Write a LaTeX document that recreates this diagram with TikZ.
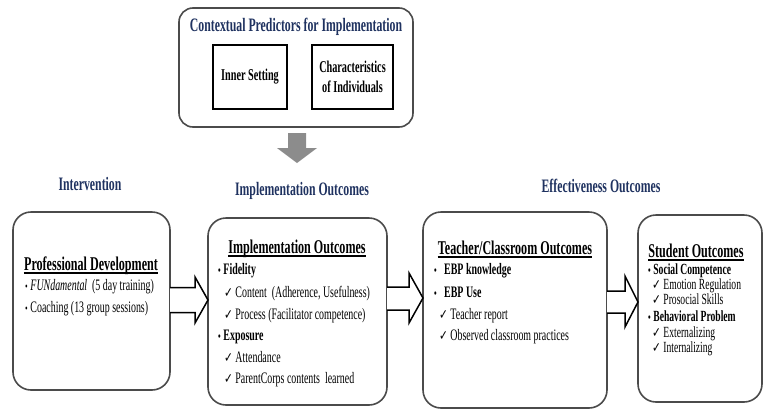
\documentclass[tikz,border=0pt]{standalone}
\usepackage{fontspec}
\setmainfont{Liberation Serif}[FakeStretch=0.62]
\newfontfamily\symfont{DejaVu Sans}[FakeStretch=0.75]
\definecolor{navy}{RGB}{31,50,96}
\definecolor{boxline}{RGB}{75,75,75}
\definecolor{arrowgray}{RGB}{140,140,140}
\newcommand{\ck}{{\symfont\fontsize{14pt}{14pt}\selectfont ✓}}
\newcommand{\sbul}{{\fontsize{12pt}{12pt}\selectfont •}}
\tikzset{
  outerbox/.style={draw=boxline, line width=1.6pt, rounded corners=18pt, fill=white},
  innerbox/.style={draw=black, line width=1.3pt, fill=white},
  blockarrow/.style={draw=black, line width=1.5pt, fill=white, line join=miter},
  colhead/.style={font=\fontsize{19pt}{21pt}\selectfont\bfseries, text=navy, inner sep=0pt, anchor=base},
  boxhead/.style={font=\fontsize{19.5pt}{21pt}\selectfont\bfseries, inner sep=0pt, anchor=base},
  item/.style={font=\fontsize{16pt}{18pt}\selectfont, inner sep=0pt, anchor=base west},
  bitem/.style={font=\fontsize{16pt}{18pt}\selectfont\bfseries, inner sep=0pt, anchor=base west},
  sitem/.style={font=\fontsize{15.5pt}{17pt}\selectfont, inner sep=0pt, anchor=base west},
  sbitem/.style={font=\fontsize{15.5pt}{17pt}\selectfont\bfseries, inner sep=0pt, anchor=base west},
}
\begin{document}
\begin{tikzpicture}[x=1pt,y=-1pt]
\useasboundingbox (0,0) rectangle (763,410);

% top context box
\draw[outerbox, rounded corners=14pt] (179,8) rectangle (413,127);
\node[colhead] (ctitle) at (296,31) {Contextual Predictors for Implementation};
\node[innerbox, minimum width=74pt, minimum height=64pt, font=\fontsize{16.5pt}{18pt}\selectfont\bfseries] (inner) at (250,77) {Inner Setting};
\node[innerbox, minimum width=81pt, minimum height=64pt, align=center, font=\fontsize{16.5pt}{20pt}\selectfont\bfseries] (chars) at (352.5,77) {Characteristics\\of Individuals};

% gray down arrow
\fill[arrowgray] (288,133) -- (306,133) -- (306,148) -- (317,148) -- (297,163) -- (277,148) -- (288,148) -- cycle;

% column headings
\node[colhead] (hint) at (90,190) {Intervention};
\node[colhead] (himp) at (302,195) {Implementation Outcomes};
\node[colhead] (heff) at (601,192) {Effectiveness Outcomes};

% boxes
\draw[outerbox] (13,212) rectangle (170,390);
\draw[outerbox] (208,218) rectangle (387,405);
\draw[outerbox] (423,212) rectangle (607,408);
\draw[outerbox] (638,215) rectangle (762,402);

% block arrows
\draw[blockarrow] (170,287.5) -- (195,287.5) -- (195,277) -- (208,300) -- (195,323) -- (195,312.5) -- (170,312.5);
\draw[blockarrow] (387,287) -- (409,287) -- (409,273) -- (423,298) -- (409,323) -- (409,310) -- (387,310);
\draw[blockarrow] (607,291) -- (625,291) -- (625,276) -- (638,302) -- (625,327) -- (625,313) -- (607,313);

% box 1
\node[boxhead] (pd) at (91,270) {Professional Development};
\draw[line width=1.2pt] ([yshift=-3pt]pd.base west) -- ([yshift=-3pt]pd.base east);
\node[item] (pd1) at (25,290) {\sbul\,\textit{FUNdamental}\ \ (5 day training)};
\node[item] (pd2) at (25,312) {\sbul\,Coaching (13 group sessions)};

% box 2
\node[boxhead] (io) at (297,253) {Implementation Outcomes};
\draw[line width=1.2pt] ([yshift=-3pt]io.base west) -- ([yshift=-3pt]io.base east);
\node[bitem] (io1) at (218,274) {\sbul\,Fidelity};
\node[item] (io2) at (224,297) {\ck\ Content\ \ (Adherence, Usefulness)};
\node[item] (io3) at (224,319) {\ck\ Process (Facilitator competence)};
\node[bitem] (io4) at (218,340) {\sbul\,Exposure};
\node[item] (io5) at (224,362) {\ck\ Attendance};
\node[item] (io6) at (224,383) {\ck\ ParentCorps contents\ \ learned};

% box 3
\node[boxhead] (tc) at (515,254) {Teacher/Classroom Outcomes};
\draw[line width=1.2pt] ([yshift=-3pt]tc.base west) -- ([yshift=-3pt]tc.base east);
\node[bitem] (tc1) at (434,274) {\sbul\ \ \ EBP knowledge};
\node[bitem] (tc2) at (434,297) {\sbul\ \ \ EBP Use};
\node[item] (tc3) at (439,319) {\ck\ Teacher report};
\node[item] (tc4) at (439,340) {\ck\ Observed classroom practices};

% box 4
\node[boxhead] (so) at (696,257) {Student Outcomes};
\draw[line width=1.2pt] ([yshift=-3pt]so.base west) -- ([yshift=-3pt]so.base east);
\node[sbitem] (so1) at (648,274) {\sbul\,Social Competence};
\node[sitem] (so2) at (652,289) {\ck\ Emotion\ Regulation};
\node[sitem] (so3) at (652,304) {\ck\ Prosocial Skills};
\node[sbitem] (so4) at (648,321) {\sbul\,Behavioral Problem};
\node[sitem] (so5) at (652,337) {\ck\ Externalizing};
\node[sitem] (so6) at (652,352) {\ck\ Internalizing};
\end{tikzpicture}
\end{document}
